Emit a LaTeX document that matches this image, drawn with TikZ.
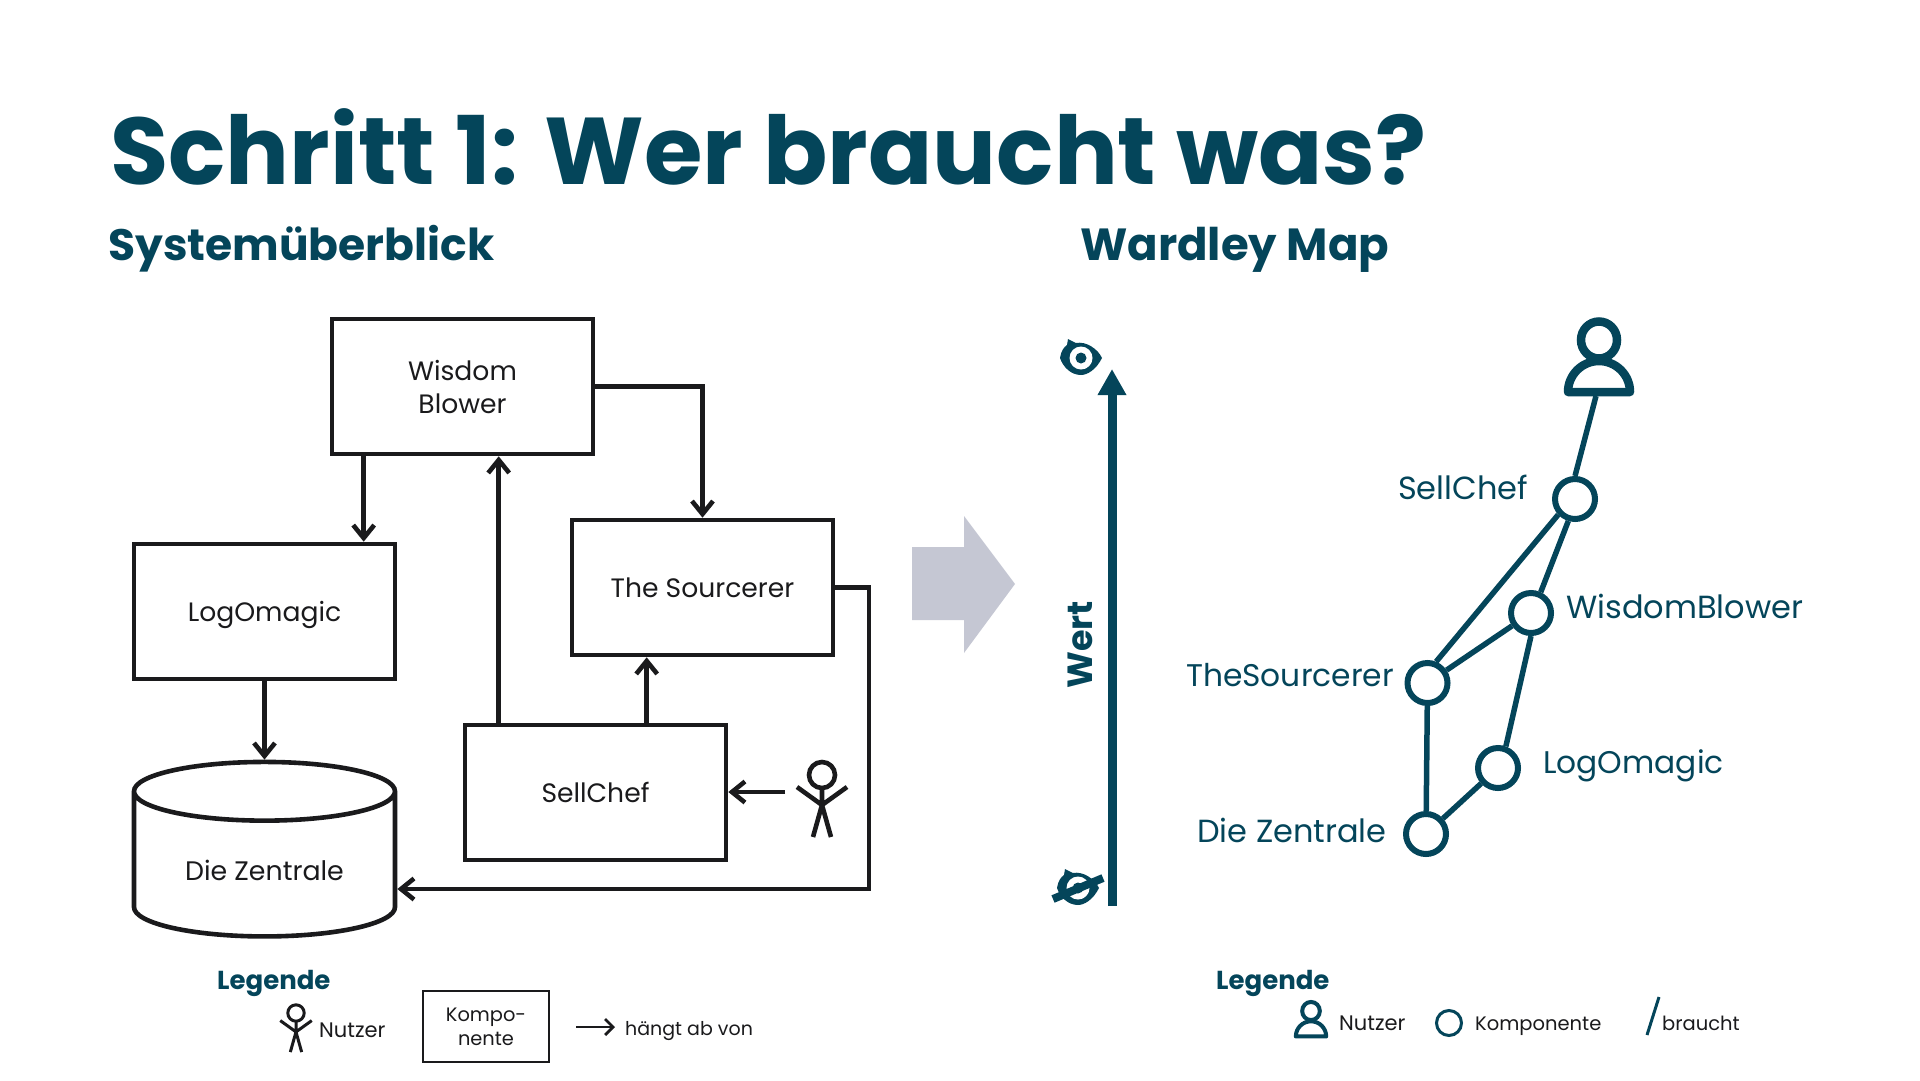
\documentclass[tikz,border=0pt]{standalone}
\usepackage{fontspec}
\setmainfont{Poppins}
\usetikzlibrary{positioning}
\usetikzlibrary{calc}
\usetikzlibrary{arrows.meta}
\usetikzlibrary{shapes.geometric}
\usetikzlibrary{backgrounds}
\definecolor{mapteal}{RGB}{4,69,90}
\definecolor{ink}{RGB}{26,26,28}
\definecolor{arrowgray}{RGB}{197,199,211}
\tikzset{
    stickman/.pic={
        \draw[ink, pic actions] (0,0) circle (13);
        \draw[ink, pic actions] (0,13) -- (0,30) (-25,12) -- (0,30) -- (25,12) (-9,62) -- (0,30) -- (9,62);
    },
    usericon/.pic={
        \draw[mapteal, pic actions] (0,0) ellipse (18 and 18.5);
        \draw[mapteal, pic actions, line join=round] (-31,52) arc (180:360:31 and 31) -- cycle;
    },
    eyeicon/.pic={
        \fill[mapteal] (-21,0) .. controls (-20,-7) and (-17,-11) .. (-14,-13) -- (-13,-19) -- (-5,-15) .. controls (5,-17) and (17,-9) .. (21,0) .. controls (15,12) and (6,17) .. (0,17) .. controls (-10,17) and (-18,9) .. (-21,0) -- cycle;
        \fill[white] (0,0) circle (11.5);
        \fill[mapteal] (0,0) circle (5.5);
    }
}
\begin{document}
\begin{tikzpicture}[
    x=1pt, y=-1pt,
    comp/.style={rectangle, draw=ink, line width=4.6, minimum width=261, minimum height=135, inner sep=0, align=center, font=\fontsize{26.6}{33}\selectfont, text=ink},
    dot/.style={circle, draw=mapteal, fill=white, line width=6, minimum size=40, inner sep=0},
    need/.style={mapteal, line width=5.5},
    dep/.style={->, ink, line width=4.6},
    heading/.style={anchor=base west, inner sep=0, text=mapteal, font=\fontsize{#1}{#1}\selectfont\bfseries},
    maplabel/.style={anchor=base west, inner sep=0, text=mapteal, font=\fontsize{#1}{#1}\selectfont},
    legendlabel/.style={anchor=base west, inner sep=0, text=ink, font=\fontsize{#1}{#1}\selectfont},
    >={Straight Barb[length=13, width=21, line width=4.6]}
]
    \useasboundingbox (0,0) rectangle (1920,1080);

    % Headings
    \node[heading=94.8] (title) at (110,184) {Schritt 1: Wer braucht was?};
    \node[heading=44] (overview) at (108,260) {Systemüberblick};
    \node[heading=45] (wardley) at (1080,260) {Wardley Map};

    % System components
    \node[comp] (wisdom) at (462.5,386.5) {Wisdom\\Blower};
    \node[comp, text depth=0] (logomagic) at (264.5,611.5) {LogOmagic};
    \node[comp] (sourcerer) at (702.5,587.5) {The Sourcerer};
    \node[comp] (sellchef) at (595.5,792.5) {SellChef};
    \node[cylinder, shape border rotate=90, draw=ink, line width=4.6, aspect=0.37, minimum width=261, minimum height=174.5, inner sep=0, text=ink, font=\fontsize{26.8}{33}\selectfont] (zentrale) at (264.5,865) {\raisebox{-15pt}[0pt][0pt]{Die Zentrale}};
    \pic[line width=4.6] at (822,775) {stickman};
    \coordinate (actor) at (785,792);

    % Dependencies
    \coordinate (a) at ($(wisdom.south west)+(34,0)$);
    \coordinate (b) at ($(sellchef.north west)+(36,0)$);
    \coordinate (c) at ($(sellchef.north west)+(184,0)$);
    \coordinate (d) at (869,889);
    \draw[dep] (a) -- (a |- logomagic.north);
    \draw[dep] (wisdom.east) -| (sourcerer.north);
    \draw[dep] (b) -- (b |- wisdom.south);
    \draw[dep] (c) -- (c |- sourcerer.south);
    \draw[dep] (logomagic.south) -- (zentrale.north);
    \draw[dep] (actor) -- (actor -| sellchef.east);
    \draw[dep] (sourcerer.east) -| (d) -- (d -| zentrale.east);

    % Transition
    \fill[arrowgray] (912,547) -- (964,547) -- (964,516) -- (1015,584) -- (964,653) -- (964,620) -- (912,620) -- cycle;

    % Value axis
    \coordinate (axisfoot) at (1112,906);
    \coordinate (axistip) at (1112,369);
    \draw[-{Triangle[length=26, width=27]}, mapteal, line width=9] (axisfoot) -- (axistip);
    \node[rotate=90, inner sep=0, text=mapteal, font=\fontsize{35}{35}\selectfont\bfseries] (value) at (1080,645) {Wert};
    \pic at (1081,358) {eyeicon};
    \pic at (1078,888) {eyeicon};
    \coordinate (strikea) at (1053,899);
    \coordinate (strikeb) at (1103,878);
    \draw[mapteal, line width=8] (strikea) -- (strikeb);

    % Map
    \pic[line width=8.5] at (1599,340) {usericon};
    \coordinate (user) at (1596,396);
    \node[dot] (msell) at (1575,499) {};
    \node[dot] (mwisdom) at (1531,613) {};
    \node[dot] (msource) at (1427.5,683) {};
    \node[dot] (mlog) at (1498,768) {};
    \node[dot] (mzentrale) at (1426,834) {};
    \node[maplabel=32] (lsell) at (1398,499) {SellChef};
    \node[maplabel=32] (lwisdom) at (1566,618) {WisdomBlower};
    \node[maplabel=31.3] (lsource) at (1186,686) {TheSourcerer};
    \node[maplabel=31.3] (llog) at (1543,773) {LogOmagic};
    \node[maplabel=32] (lzentrale) at (1197,842) {Die Zentrale};
    \begin{scope}[on background layer]
        \draw[need] (user) -- (msell.north);
        \draw[need] (msell.253) -- (mwisdom.65);
        \draw[need] (msell.223) -- (msource.68);
        \draw[need] (mwisdom) -- (msource);
        \draw[need] (mwisdom.south) -- (mlog.70);
        \draw[need] (msource) -- (mzentrale);
        \draw[need] (mlog) -- (mzentrale);
    \end{scope}

    % Legends
    \node[heading=26] (legendleft) at (217,989) {Legende};
    \node[heading=26] (legendright) at (1216,989) {Legende};
    \pic[scale=0.63, line width=3] at (296,1013) {stickman};
    \node[legendlabel=21] (lnutzer) at (319,1037) {Nutzer};
    \node[draw=ink, line width=2.8, minimum width=126, minimum height=71, inner sep=0, align=center, text=ink, font=\fontsize{19.4}{24}\selectfont] (lkomp) at (486,1026.5) {Kompo-\\nente};
    \coordinate (lstart) at (576,1027);
    \coordinate (lend) at (615,1027);
    \node[legendlabel=19] (lhaengt) at (625,1035) {hängt ab von};
    \draw[-{Straight Barb[length=8, width=16, line width=2.8]}, ink, line width=2.8] (lstart) -- (lend);
    \pic[scale=0.49, line width=4] at (1311,1011) {usericon};
    \node[legendlabel=21] (rnutzer) at (1339,1030) {Nutzer};
    \node[circle, draw=mapteal, line width=3, minimum size=25, inner sep=0] (rkomp) at (1449,1023) {};
    \node[legendlabel=19.5] (rlabel) at (1475,1030) {Komponente};
    \coordinate (ra) at (1659,997);
    \coordinate (rb) at (1647,1035);
    \draw[mapteal, line width=3] (ra) -- (rb);
    \node[legendlabel=19.5] (rbraucht) at (1662,1030) {braucht};
\end{tikzpicture}
\end{document}
